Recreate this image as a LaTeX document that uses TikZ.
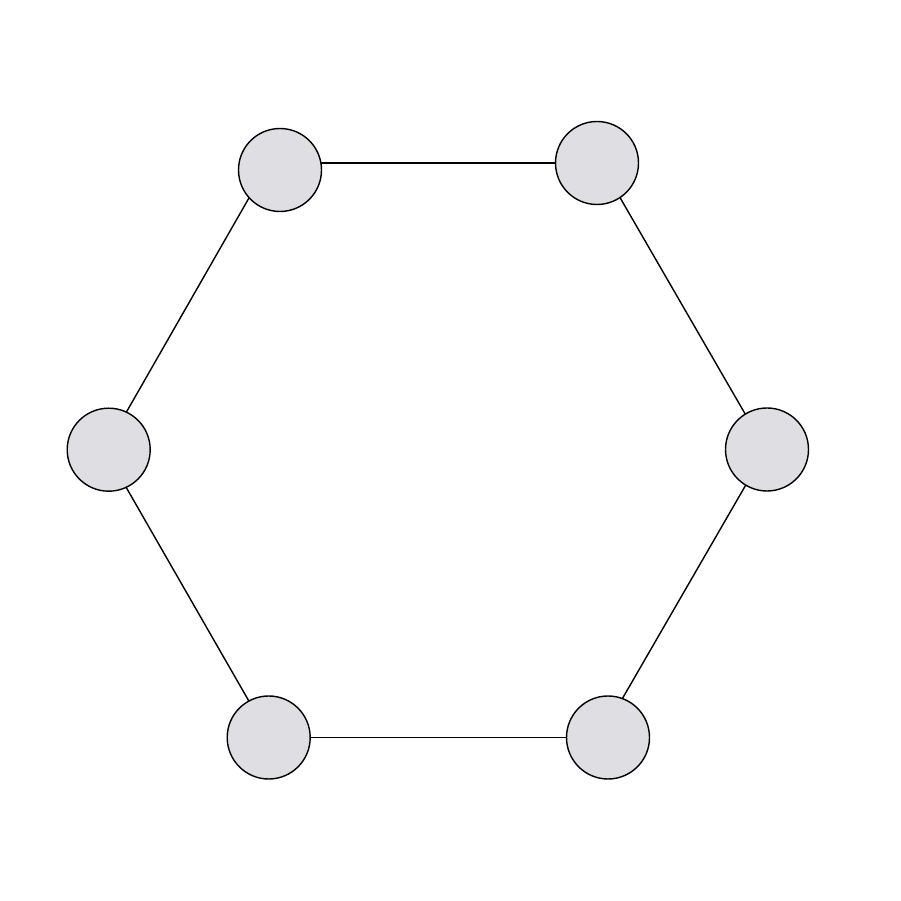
\documentclass[tikz,border=0pt]{standalone}
\usepackage{xcolor}
\usepackage{tikz}
\usetikzlibrary{positioning}
\definecolor{vertexgray}{RGB}{222,222,227}
\tikzset{
    vertex/.style={circle, draw=black, fill=vertexgray, thin, minimum size=0.83cm, inner sep=0pt},
    edge/.style={draw=black, thin}
}
\begin{document}
\begin{tikzpicture}
    \useasboundingbox (0,0) rectangle (9.01,9.01);
    % corners of the hexagon
    \coordinate (cTopLeft) at (2.69,7.38);
    \coordinate (cTopRight) at (6.00,7.38);
    \coordinate (cRight) at (7.66,4.51);
    \coordinate (cBottomRight) at (6.00,1.637);
    \coordinate (cBottomLeft) at (2.697,1.637);
    \coordinate (cLeft) at (1.047,4.51);

    \draw [edge] (cTopLeft) -- (cTopRight);
    \draw [edge] (cTopRight) -- (cRight);
    \draw [edge] (cRight) -- (cBottomRight);
    \draw [edge] (cBottomRight) -- (cBottomLeft);
    \draw [edge] (cBottomLeft) -- (cLeft);
    \draw [edge] (cLeft) -- (cTopLeft);

    \node [vertex] (TopLeft) at (2.80,7.31) {};
    \node [vertex] (TopRight) at (5.97,7.38) {};
    \node [vertex] (Right) at (7.67,4.515) {};
    \node [vertex] (BottomRight) at (6.08,1.635) {};
    \node [vertex] (BottomLeft) at (2.687,1.635) {};
    \node [vertex] (Left) at (1.087,4.513) {};
\end{tikzpicture}
\end{document}
